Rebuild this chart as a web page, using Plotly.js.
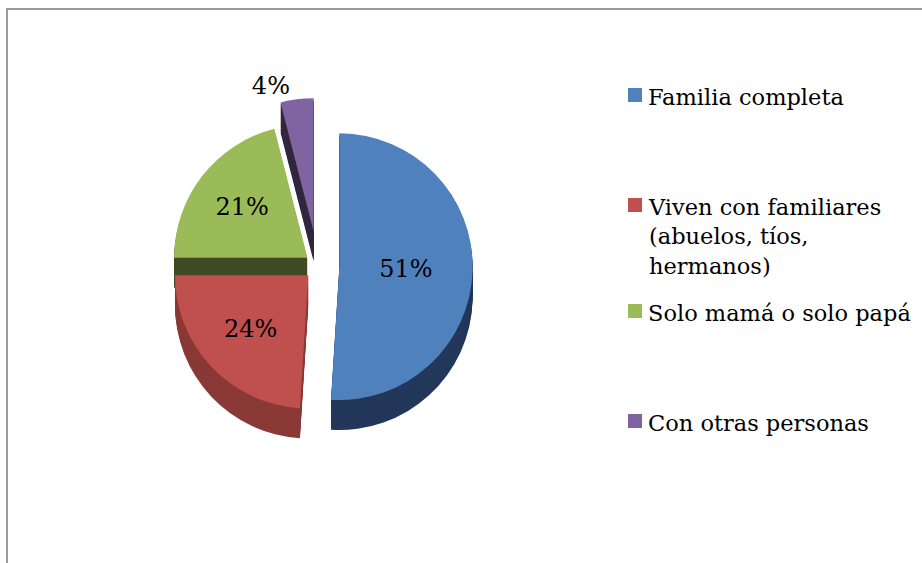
<!DOCTYPE html>
<html>
<head>
<meta charset="utf-8">
<script src="https://cdn.plot.ly/plotly-3.0.1.min.js"></script>
<style>
  html, body { margin: 0; padding: 0; background: #ffffff; }
  #chart { width: 922px; height: 563px; }
</style>
</head>
<body>
<div id="chart"></div>
<script>
// ---- data ----
const categories = [
  'Familia completa',
  'Viven con familiares<br>(abuelos, tíos,<br>hermanos)',
  'Solo mamá o solo papá',
  'Con otras personas'
];
const shares = [51, 24, 21, 4];

// ---- styles ----
const topColors  = ['#4F81BD', '#C0504D', '#9BBB59', '#8064A2'];
const sideColors = ['#22375A', '#8A3937', '#3F4A23', '#31273F'];
const pulls = [0.16, 0.10, 0.10, 0.26];
const FONT = 'DejaVu Serif, Liberation Serif, serif';

const W = 922, H = 563;
const cx = 318, cy = 266, S = 336;   // centre and domain size (px) of the top face
const depth = 30, steps = 16;

function domainAt(offsetPx) {
  return {
    x: [(cx - S / 2) / W, (cx + S / 2) / W],
    y: [1 - (cy + S / 2 + offsetPx) / H, 1 - (cy - S / 2 + offsetPx) / H]
  };
}

const traces = [];
// side walls: stacked darker copies, from deepest to top
for (let k = steps; k >= 1; k--) {
  traces.push({
    type: 'pie',
    values: shares,
    labels: categories,
    sort: false,
    direction: 'clockwise',
    rotation: 0,
    pull: pulls,
    domain: domainAt(k * depth / steps),
    marker: { colors: sideColors, line: { width: 0 } },
    textinfo: 'none',
    hoverinfo: 'skip',
    showlegend: false
  });
}
// top face
traces.push({
  type: 'pie',
  values: shares,
  labels: categories,
  sort: false,
  direction: 'clockwise',
  rotation: 0,
  pull: pulls,
  domain: domainAt(0),
  marker: { colors: topColors, line: { width: 0 } },
  textinfo: 'percent',
  texttemplate: '%{value}%',
  textposition: ['inside', 'inside', 'inside', 'outside'],
  insidetextorientation: 'horizontal',
  textfont: { family: FONT, size: 24, color: '#000000' },
  outsidetextfont: { family: FONT, size: 24, color: '#000000' },
  hoverinfo: 'label+percent',
  showlegend: false
});

// ---- custom legend (text from categories, colours from topColors) ----
const legendTop = [86, 196, 302, 412];   // px from top for each entry's first line
const shapes = [];
const annotations = [];
categories.forEach((c, i) => {
  shapes.push({
    type: 'rect', xref: 'paper', yref: 'paper',
    x0: 628 / W, x1: 642 / W,
    y0: 1 - (legendTop[i] + 16) / H, y1: 1 - (legendTop[i] + 2) / H,
    fillcolor: topColors[i], line: { width: 0 }
  });
  annotations.push({
    xref: 'paper', yref: 'paper',
    x: 646 / W, y: 1 - (legendTop[i] - 4) / H,
    xanchor: 'left', yanchor: 'top', align: 'left',
    text: c, showarrow: false,
    font: { family: FONT, size: 22.5, color: '#000000' }
  });
});
// outer frame
shapes.push({
  type: 'rect', xref: 'paper', yref: 'paper',
  x0: 7 / W, x1: 1.05, y0: -0.05, y1: 1 - 9 / H,
  line: { color: '#9A9A9A', width: 2 }, fillcolor: 'rgba(0,0,0,0)'
});

const layout = {
  width: W, height: H,
  margin: { l: 0, r: 0, t: 0, b: 0 },
  paper_bgcolor: '#ffffff',
  plot_bgcolor: '#ffffff',
  showlegend: false,
  shapes: shapes,
  annotations: annotations,
  font: { family: FONT }
};

Plotly.newPlot('chart', traces, layout, { displayModeBar: false, staticPlot: true });
</script>
</body>
</html>
